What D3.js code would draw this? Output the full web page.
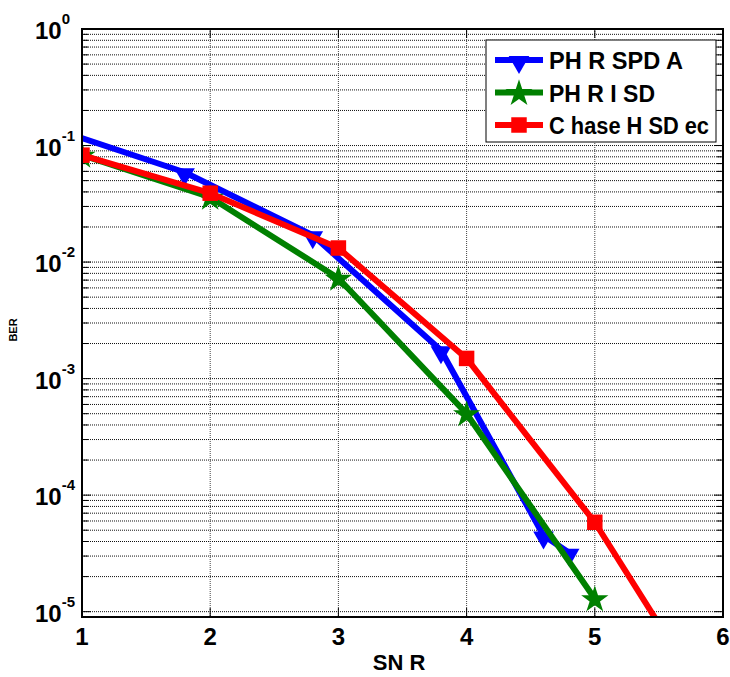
<!DOCTYPE html>
<html>
<head>
<meta charset="utf-8">
<script src="https://cdn.jsdelivr.net/npm/d3@7"></script>
<style>
  body { margin: 0; background: #fff; }
  text { font-family: "Liberation Sans", Arial, sans-serif; font-weight: bold; }
</style>
</head>
<body>
<div id="chart"></div>
<script>
// values
const snrSPDA = [0.8, 1.8, 2.8, 3.8, 4.6, 4.8];
const berSPDA = [0.137, 0.059, 0.0170, 0.00175, 4.5e-5, 3.2e-5];

const snrISD = [1, 2, 3, 4, 5];
const berISD = [0.0827, 0.036, 0.00726, 5.0e-4, 1.29e-5];

const snrHSDec = [1, 2, 3, 4, 5, 6];
const berHSDec = [0.0827, 0.039, 0.0132, 0.00149, 5.85e-5, 1.05e-6];

const xTicks = [1, 2, 3, 4, 5, 6];
const yExponents = [0, -1, -2, -3, -4, -5];
const legendLabels = ["PH R SPD A", "PH R I SD", "C hase H SD ec"];
const legendWidths = [134, 106, 160];

const W = 730, H = 677;
const pL = 82, pR = 723, pT = 29, pB = 617;

const svg = d3.select("#chart").append("svg")
    .attr("width", W)
    .attr("height", H);

const x = d3.scaleLinear().domain([1, 6]).range([pL, pR]);
const y = d3.scaleLog().domain([9e-6, 1]).range([pB, pT]);

// grid
const minor = [];
for (let e = -6; e <= 0; e++) {
    for (let m = 1; m <= 9; m++) {
        const v = m * Math.pow(10, e);
        if (v >= 9e-6 && v <= 1) minor.push(v);
    }
}

const grid = svg.append("g");
grid.selectAll(".hgrid")
    .data(minor)
    .enter()
    .append("line")
    .attr("x1", pL).attr("x2", pR)
    .attr("y1", d => y(d)).attr("y2", d => y(d))
    .attr("stroke", "#111")
    .attr("stroke-width", 1)
    .attr("stroke-dasharray", "1,1");

grid.selectAll(".vgrid")
    .data(xTicks.slice(1, -1))
    .enter()
    .append("line")
    .attr("x1", d => x(d)).attr("x2", d => x(d))
    .attr("y1", pT).attr("y2", pB)
    .attr("stroke", "#444")
    .attr("stroke-width", 1)
    .attr("stroke-dasharray", "1,1");

// ticks inside the box
const ticks = svg.append("g").attr("stroke", "#000").attr("stroke-width", 1);
minor.forEach(v => {
    const len = Math.abs(Math.log10(v) - Math.round(Math.log10(v))) < 1e-9 ? 9 : 6;
    ticks.append("line").attr("x1", pL).attr("x2", pL + len).attr("y1", y(v)).attr("y2", y(v));
    ticks.append("line").attr("x1", pR).attr("x2", pR - len).attr("y1", y(v)).attr("y2", y(v));
});
xTicks.forEach(t => {
    ticks.append("line").attr("x1", x(t)).attr("x2", x(t)).attr("y1", pB).attr("y2", pB - 9);
    ticks.append("line").attr("x1", x(t)).attr("x2", x(t)).attr("y1", pT).attr("y2", pT + 9);
});

// series
const series = [
    { name: legendLabels[0], xs: snrSPDA, ys: berSPDA, color: "#0000ff", marker: "tri" },
    { name: legendLabels[1], xs: snrISD, ys: berISD, color: "#008000", marker: "star" },
    { name: legendLabels[2], xs: snrHSDec, ys: berHSDec, color: "#ff0000", marker: "sq" }
];

svg.append("clipPath").attr("id", "plotclip")
    .append("rect")
    .attr("x", pL).attr("y", pT)
    .attr("width", pR - pL).attr("height", pB - pT);

const plot = svg.append("g").attr("clip-path", "url(#plotclip)");

const lineGenerator = d3.line()
    .x(d => x(d[0]))
    .y(d => y(d[1]));

function markerPath(kind) {
    if (kind === "tri") return d3.symbol().type(d3.symbolTriangle).size(185)();
    if (kind === "star") return d3.symbol().type(d3.symbolStar).size(230)();
    return d3.symbol().type(d3.symbolSquare).size(240)();
}
function markerTransform(kind, px, py) {
    if (kind === "tri") return `translate(${px},${py + 2}) rotate(180)`;
    if (kind === "star") return `translate(${px},${py + 1})`;
    return `translate(${px},${py})`;
}

series.forEach(s => {
    const pts = s.xs.map((v, i) => [v, s.ys[i]]);
    plot.append("path")
        .attr("d", lineGenerator(pts))
        .attr("fill", "none")
        .attr("stroke", s.color)
        .attr("stroke-width", 6)
        .attr("stroke-linejoin", "round");
    plot.selectAll(null)
        .data(pts)
        .enter()
        .append("path")
        .attr("d", markerPath(s.marker))
        .attr("transform", d => markerTransform(s.marker, x(d[0]), y(d[1])))
        .attr("fill", s.color);
});

// box
svg.append("rect")
    .attr("x", pL).attr("y", pT)
    .attr("width", pR - pL).attr("height", pB - pT)
    .attr("fill", "none")
    .attr("stroke", "#000")
    .attr("stroke-width", 2);

// tick labels
svg.selectAll(".xlab")
    .data(xTicks)
    .enter()
    .append("text")
    .attr("x", d => x(d))
    .attr("y", pB + 28)
    .attr("text-anchor", "middle")
    .attr("font-size", 24)
    .text(d => d);

yExponents.forEach(e => {
    const t = svg.append("text")
        .attr("x", 35)
        .attr("y", y(Math.pow(10, e)) + 10)
        .attr("font-size", 24);
    t.append("tspan").text("10");
    t.append("tspan")
        .attr("font-size", 15)
        .attr("dy", -15)
        .text(e);
});

svg.append("text")
    .attr("x", 399)
    .attr("y", 670)
    .attr("text-anchor", "middle")
    .attr("font-size", 22)
    .text("SN R");

svg.append("text")
    .attr("transform", "translate(17,330) rotate(-90)")
    .attr("text-anchor", "middle")
    .attr("font-size", 11)
    .text("BER");

// legend
const legend = svg.append("g");
legend.append("rect")
    .attr("x", 486).attr("y", 40)
    .attr("width", 230).attr("height", 102)
    .attr("fill", "#fff")
    .attr("stroke", "#000")
    .attr("stroke-width", 1);

series.forEach((s, i) => {
    const ly = 60 + i * 32.5;
    legend.append("line")
        .attr("x1", 495).attr("x2", 543)
        .attr("y1", ly).attr("y2", ly)
        .attr("stroke", s.color)
        .attr("stroke-width", 6);
    legend.append("path")
        .attr("d", markerPath(s.marker))
        .attr("transform", markerTransform(s.marker, 519, ly))
        .attr("fill", s.color);
    legend.append("text")
        .attr("x", 549)
        .attr("y", ly + 9)
        .attr("font-size", 23)
        .attr("textLength", legendWidths[i])
        .attr("lengthAdjust", "spacingAndGlyphs")
        .text(s.name);
});
</script>
</body>
</html>
